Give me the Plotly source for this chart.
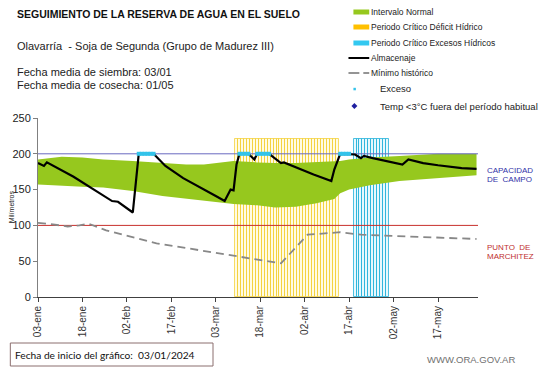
import plotly.graph_objects as go
import pandas as pd

# ---------------- DATA ----------------
# Almacenaje (stored soil water, mm)
alm_dates = ["2024-01-03", "2024-01-05", "2024-01-06", "2024-01-15", "2024-01-28", "2024-01-30",
             "2024-02-04", "2024-02-06", "2024-02-11", "2024-02-15", "2024-02-21", "2024-02-26",
             "2024-03-03", "2024-03-06", "2024-03-07", "2024-03-08", "2024-03-09", "2024-03-10",
             "2024-03-11", "2024-03-14", "2024-03-16", "2024-03-17", "2024-03-21", "2024-03-25",
             "2024-03-26", "2024-03-31", "2024-04-05", "2024-04-11", "2024-04-12", "2024-04-14",
             "2024-04-17", "2024-04-19", "2024-04-21", "2024-04-22", "2024-04-25", "2024-04-30",
             "2024-05-05", "2024-05-07", "2024-05-12", "2024-05-17", "2024-05-25", "2024-05-30"]
alm_values = [187, 183, 188, 168, 134, 133,
              118, 200, 200, 183, 166, 155,
              141, 134, 143, 150, 149, 185,
              200, 200, 192, 200, 200, 187,
              188, 179, 171, 162, 178, 200,
              200, 199, 194, 197, 194, 190,
              185, 192, 187, 184, 180, 179]

# Intervalo normal (band)
band_dates = ["2024-01-03", "2024-01-11", "2024-01-18", "2024-01-25", "2024-02-04", "2024-02-14",
              "2024-02-22", "2024-02-28", "2024-03-05", "2024-03-09", "2024-03-17", "2024-03-23",
              "2024-03-30", "2024-04-06", "2024-04-12", "2024-04-14", "2024-04-17", "2024-04-24",
              "2024-05-04", "2024-05-17", "2024-05-30"]
band_upper = [192, 196, 195, 192, 190, 187,
              185, 185, 188, 190, 188, 187,
              187, 188, 189, 190, 192, 195,
              197, 200, 200]
band_lower = [157, 155, 154, 153, 148, 141,
              137, 134, 131, 130, 128, 125,
              126, 131, 137, 145, 150, 156,
              162, 166, 170]

# Mínimo histórico
min_dates = ["2024-01-03", "2024-01-07", "2024-01-13", "2024-01-17", "2024-01-20", "2024-01-26",
             "2024-02-12", "2024-02-28", "2024-03-16", "2024-03-25", "2024-04-03", "2024-04-11",
             "2024-04-14", "2024-04-21", "2024-05-01", "2024-05-30"]
min_values = [103.5, 102, 98.5, 100, 102.5, 93,
              75, 64, 53, 47, 87, 90,
              90.5, 87, 85.5, 81]

# Reference levels
capacidad_campo = 200
punto_marchitez = 100

# Critical periods (daily columns, height in mm)
deficit_period = ("2024-03-10", "2024-04-13")
exceso_period = ("2024-04-19", "2024-04-30")
period_height = 220

# Exceso (days with excess water, plotted at field capacity)
exceso_spans = [("2024-02-06", "2024-02-11"), ("2024-03-11", "2024-03-14"),
                ("2024-03-17", "2024-03-21"), ("2024-04-14", "2024-04-17")]

# Axis ticks
x_tick_vals = ["2024-01-03", "2024-01-18", "2024-02-02", "2024-02-17", "2024-03-03",
               "2024-03-18", "2024-04-02", "2024-04-17", "2024-05-02", "2024-05-17"]
x_tick_text = ["03-ene", "18-ene", "02-feb", "17-feb", "03-mar",
               "18-mar", "02-abr", "17-abr", "02-may", "17-may"]
y_tick_vals = [0, 50, 100, 150, 200, 250]

# ---------------- FIGURE ----------------
W, H = 541, 368
L, R, T, B = 33, 63, 118, 71
PW, PH = W - L - R, H - T - B

def px(x):
    return (x - L) / PW

def py(y):
    return (H - B - y) / PH

FONT = "Liberation Sans, Arial, sans-serif"
DAY_MS = 86400000

fig = go.Figure()

# Green band
fig.add_trace(go.Scatter(x=band_dates, y=band_lower, mode="lines",
                         line=dict(width=0, color="#96C81E"), hoverinfo="skip"))
fig.add_trace(go.Scatter(x=band_dates, y=band_upper, mode="lines", fill="tonexty",
                         fillcolor="#96C81E", line=dict(width=0, color="#96C81E"),
                         hoverinfo="skip"))

# Critical period bars
def_days = pd.date_range(*deficit_period, freq="D")
exc_days = pd.date_range(*exceso_period, freq="D")
fig.add_trace(go.Bar(x=def_days, y=[period_height] * len(def_days), width=DAY_MS,
                     marker=dict(color="rgba(255,246,185,0.4)",
                                 line=dict(color="rgba(242,204,40,0.7)", width=1))))
fig.add_trace(go.Bar(x=exc_days, y=[period_height] * len(exc_days), width=DAY_MS,
                     marker=dict(color="rgba(195,238,250,0.4)",
                                 line=dict(color="rgba(35,178,218,0.8)", width=1))))

x0, x1 = "2024-01-03", "2024-05-30 12:00"
# Reference lines
fig.add_trace(go.Scatter(x=[x0, x1], y=[capacidad_campo] * 2, mode="lines",
                         line=dict(color="#6A6AC0", width=1), hoverinfo="skip"))
fig.add_trace(go.Scatter(x=[x0, x1], y=[punto_marchitez] * 2, mode="lines",
                         line=dict(color="#C8302C", width=1), hoverinfo="skip"))

# Minimo historico
fig.add_trace(go.Scatter(x=min_dates, y=min_values, mode="lines",
                         line=dict(color="#888888", width=1.8, dash="8px,5px")))

# Almacenaje
fig.add_trace(go.Scatter(x=alm_dates, y=alm_values, mode="lines",
                         line=dict(color="#000000", width=2.2)))

# Exceso markers
exc_x = []
for s, e in exceso_spans:
    exc_x += list(pd.date_range(s, e, freq="D"))
fig.add_trace(go.Scatter(x=exc_x, y=[capacidad_campo] * len(exc_x), mode="markers",
                         marker=dict(symbol="square", size=4, color="#33C3EA",
                                     line=dict(width=0))))

fig.update_layout(
    width=W, height=H, margin=dict(l=L, r=R, t=T, b=B),
    paper_bgcolor="white", plot_bgcolor="white",
    showlegend=False, barmode="overlay", bargap=0,
    font=dict(family=FONT, color="#222222"),
    xaxis=dict(type="date", range=[x0, x1], tickvals=x_tick_vals, ticktext=x_tick_text,
               tickangle=-90, tickfont=dict(size=10, color="#333333"),
               ticks="outside", ticklen=4, tickcolor="#404040",
               showline=True, linecolor="#404040", linewidth=1, showgrid=False,
               zeroline=False),
    yaxis=dict(range=[0, 250], tickvals=y_tick_vals, tickfont=dict(size=11, color="#222222"),
               ticks="outside", ticklen=4, tickcolor="#808080",
               showline=True, linecolor="#808080", linewidth=1, showgrid=False,
               zeroline=False),
)

ann = []
def text(x, y, s, size, color="#222222", bold=False, family=FONT, xanchor="left"):
    xx = x - 2 if xanchor == "left" else x + 2
    ann.append(dict(x=px(xx), y=py(y), xref="paper", yref="paper",
                    text=(f"<b>{s}</b>" if bold else s),
                    showarrow=False, xanchor=xanchor, yanchor="middle",
                    font=dict(size=size, color=color, family=family), align="left"))

text(12, 14, "SEGUIMIENTO DE LA RESERVA DE AGUA EN EL SUELO", 10.5, "#111111", bold=True)
text(12, 46, "Olavarría  - Soja de Segunda (Grupo de Madurez III)", 11)
text(12, 72, "Fecha media de siembra: 03/01", 11)
text(12, 85, "Fecha media de cosecha: 01/05", 11)

# Legend
shapes = []
def hline(xa, xb, y, color, width, dash="solid"):
    shapes.append(dict(type="line", xref="paper", yref="paper", x0=px(xa), x1=px(xb),
                       y0=py(y), y1=py(y), line=dict(color=color, width=width, dash=dash)))

leg_y = [12, 27, 43, 58, 73, 89, 106]
hline(352, 368, leg_y[0], "#96C81E", 5)
hline(352, 368, leg_y[1], "#FFC000", 5)
hline(352, 368, leg_y[2], "#33C8F0", 5)
hline(347, 368, leg_y[3], "#000000", 2)
hline(347, 358, leg_y[4], "#888888", 1.8)
hline(362, 368, leg_y[4], "#888888", 1.8)
text(370, leg_y[0], "Intervalo Normal", 8.5)
text(370, leg_y[1], "Periodo Crítico Déficit Hídrico", 8.5)
text(370, leg_y[2], "Periodo Crítico Excesos Hídricos", 8.5)
text(370, leg_y[3], "Almacenaje", 8.5)
text(370, leg_y[4], "Mínimo histórico", 8.5)
text(379, leg_y[5], "Exceso", 9.5)
text(379, leg_y[6], "Temp <3°C fuera del período habitual", 9.5)
shapes.append(dict(type="rect", xref="paper", yref="paper", x0=px(352), x1=px(354.5),
                   y0=py(90.3), y1=py(87.8), fillcolor="#33C3EA", line=dict(width=0)))
shapes.append(dict(type="path", xref="paper", yref="paper",
                   path=f"M {px(353)} {py(103)} L {px(356)} {py(106)} L {px(353)} {py(109)} L {px(350)} {py(106)} Z",
                   fillcolor="#1F1FA0", line=dict(width=0)))

# Right labels
text(487, 170, "CAPACIDAD", 8, "#3232A8")
text(487, 179, "DE  CAMPO", 8, "#3232A8")
text(487, 247, "PUNTO  DE", 8, "#C03030")
text(487, 256, "MARCHITEZ", 8, "#C03030")

# Y title
ann.append(dict(x=px(6), y=py(207), xref="paper", yref="paper", text="Milímetros",
                showarrow=False, textangle=-90, xanchor="center", yanchor="middle",
                font=dict(size=7, color="#222222", family=FONT)))

# Bottom box
shapes.append(dict(type="rect", xref="paper", yref="paper", x0=px(5), x1=px(210),
                   y0=py(366), y1=py(343), line=dict(color="#8B6E6E", width=1)))
text(10, 354.5, "Fecha de inicio del gráfico:  03/01/2024", 10.2, "#111111",
     family="Lato, Open Sans, sans-serif")
text(515, 359, "WWW.ORA.GOV.AR", 9.5, "#707070", xanchor="right")

fig.update_layout(annotations=ann, shapes=shapes)
fig.write_html("out.html", config={"displayModeBar": False},
               post_script="document.body.style.margin='0';document.body.style.padding='0';")
